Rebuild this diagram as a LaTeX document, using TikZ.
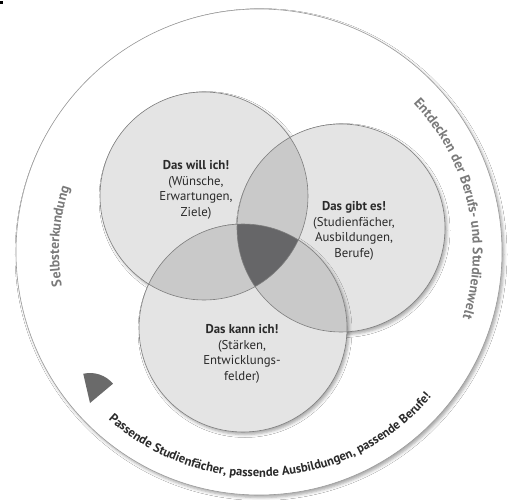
\documentclass[tikz,border=0pt]{standalone}
\usepackage{fontspec}
\setmainfont{PT Sans}
\usetikzlibrary{decorations.text,shadows.blur}
\definecolor{vennone}{HTML}{E4E4E4}
\definecolor{venntwo}{HTML}{C9C9C9}
\definecolor{vennthree}{HTML}{666668}
\definecolor{rim}{HTML}{7E7E7E}
\definecolor{outerrim}{HTML}{9A9A9A}
\definecolor{sidegray}{HTML}{7A7A7A}
\definecolor{wedgecol}{HTML}{6A6A6A}
\definecolor{txt}{HTML}{2A2A2A}
\newcommand\sidefont{\fontsize{13.8}{15}\selectfont\bfseries}
\newcommand\botfont{\fontsize{12.6}{14}\selectfont\bfseries}
\begin{document}
\begin{tikzpicture}[x=1pt,y=1pt,
  softshadow/.style={blur shadow={shadow xshift=2pt,shadow yshift=-2.5pt,shadow blur radius=3pt,shadow opacity=35}},
  vennlabel/.style={align=center,text=txt,font=\fontsize{12.8}{15.6}\selectfont,inner sep=0pt},
  rimline/.style={draw=rim,line width=0.6pt}]
\useasboundingbox[fill=white] (0,0) rectangle (517,-500);
\fill[black] (0,-1) rectangle (2.5,-4);
\coordinate (O) at (259,-252);
\coordinate (cw) at (204,-196);
\coordinate (cg) at (341,-228);
\coordinate (ck) at (243,-328);
% outer circle
\path[fill=white,draw=outerrim,line width=0.6pt,softshadow] (O) circle[radius=243];
% three circles
\path[fill=vennone,softshadow] (cw) circle[radius=104];
\path[fill=vennone,softshadow] (cg) circle[radius=104];
\path[fill=vennone,softshadow] (ck) circle[radius=104];
% pairwise overlaps
\begin{scope}
  \clip (cw) circle[radius=104];
  \fill[venntwo] (cg) circle[radius=104];
  \fill[venntwo] (ck) circle[radius=104];
\end{scope}
\begin{scope}
  \clip (cg) circle[radius=104];
  \fill[venntwo] (ck) circle[radius=104];
\end{scope}
% triple overlap
\begin{scope}
  \clip (cw) circle[radius=104];
  \clip (cg) circle[radius=104];
  \fill[vennthree] (ck) circle[radius=104];
\end{scope}
% outlines
\draw[rimline] (cw) circle[radius=104];
\draw[rimline] (cg) circle[radius=104];
\draw[rimline] (ck) circle[radius=104];
% wedge
\fill[wedgecol] (90,-403) -- ++(40:30) arc[start angle=40,end angle=103,radius=30] -- cycle;
% labels
\node[vennlabel] (will) at (196,-190) {\textbf{Das will ich!}\\(Wünsche,\\Erwartungen,\\Ziele)};
\node[vennlabel] (gibt) at (354,-231) {\textbf{Das gibt es!}\\(Studienfächer,\\Ausbildungen,\\Berufe)};
\node[vennlabel] (kann) at (242,-354) {\textbf{Das kann ich!}\\(Stärken,\\Entwicklungs-\\felder)};
% curved texts
\path[decorate,decoration={text along path,text align=center,text color=sidegray,
  text={|\sidefont|Selbsterkundung}}]
  (O) ++(215:200) arc[start angle=215,end angle=136,radius=200];
\path[decorate,decoration={text along path,text align=center,text color=sidegray,
  text={|\sidefont|Entdecken der Berufs- und Studienwelt}}]
  (O) ++(70:214) arc[start angle=70,end angle=-44,radius=214];
\path[decorate,decoration={text along path,text align=center,text color=txt,
  text={|\botfont|Passende Studienfächer, passende Ausbildungen, passende Berufe!}}]
  (O) ++(218:225) arc[start angle=218,end angle=330,radius=225];
\end{tikzpicture}
\end{document}
